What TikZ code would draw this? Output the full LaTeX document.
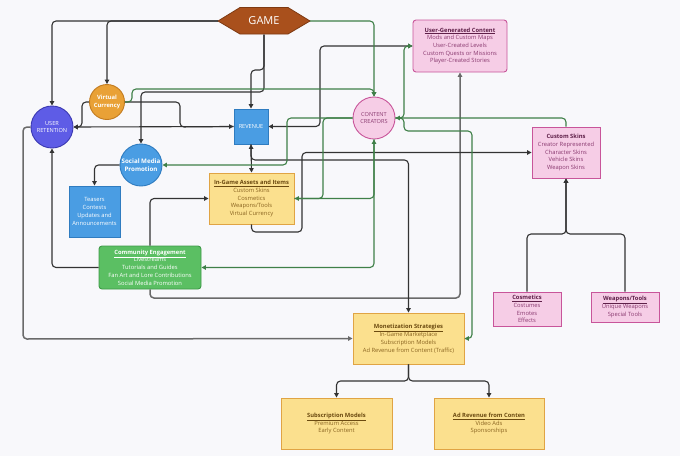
\documentclass[tikz,border=0pt]{standalone}
\usepackage{fontspec}
\setmainfont{Open Sans}
\usetikzlibrary{arrows.meta}
\definecolor{bgc}{HTML}{F8F8FB}
\definecolor{linec}{HTML}{333333}
\definecolor{grayc}{HTML}{6A6A6A}
\definecolor{greenc}{HTML}{3F8048}
\definecolor{gamefill}{HTML}{A9501C}
\definecolor{gamedraw}{HTML}{7E3A12}
\definecolor{vcfill}{HTML}{E9A136}
\definecolor{vcdraw}{HTML}{C27B1F}
\definecolor{urfill}{HTML}{5E5CE6}
\definecolor{urdraw}{HTML}{3B39B2}
\definecolor{bluefill}{HTML}{4A9DE3}
\definecolor{bluedraw}{HTML}{2F7CC0}
\definecolor{pinkfill}{HTML}{F6CDE6}
\definecolor{pinkdraw}{HTML}{C8559A}
\definecolor{pinktext}{HTML}{8A3A70}
\definecolor{pinktitle}{HTML}{5E1F48}
\definecolor{yelfill}{HTML}{FBE08E}
\definecolor{yeldraw}{HTML}{E0A444}
\definecolor{yeltext}{HTML}{8A6420}
\definecolor{yeltitle}{HTML}{6B4A10}
\definecolor{grnfill}{HTML}{5BBF63}
\definecolor{grndraw}{HTML}{3E9A48}
\tikzset{
  txt/.style={font=\fontsize{5.8}{7.7}\selectfont, align=center, inner sep=0pt},
  pinkbox/.style={txt, draw=pinkdraw, fill=pinkfill, line width=0.9pt, text=pinktext},
  yelbox/.style={txt, draw=yeldraw, fill=yelfill, line width=0.9pt, text=yeltext},
  bluebox/.style={txt, draw=bluedraw, fill=bluefill, line width=0.9pt, text=white},
  grnbox/.style={txt, draw=grndraw, fill=grnfill, line width=0.9pt, text=white, rounded corners=3pt},
  circ/.style={txt, circle, line width=0.9pt, text=white},
  conn/.style={draw=linec, line width=1.1pt, rounded corners=4pt, -{Triangle[length=4.5pt,width=4.5pt]}},
  gconn/.style={draw=grayc, line width=1.5pt, rounded corners=4pt, -{Triangle[length=4.5pt,width=4.5pt]}},
  grconn/.style={draw=greenc, line width=1.1pt, rounded corners=4pt, -{Triangle[length=4.5pt,width=4.5pt]}},
}
\newcommand{\ttl}[1]{\underline{\textbf{#1}}}
\begin{document}
\begin{tikzpicture}[x=1pt,y=-1pt]
\useasboundingbox (0,0) rectangle (680,456);
\fill[bgc] (0,0) rectangle (680,456);

% GAME hexagon
\filldraw[fill=gamefill, draw=gamedraw, line width=0.8pt]
  (218,21) -- (240,7.5) -- (288,7.5) -- (310,21) -- (288,34) -- (240,34) -- cycle;
\node[inner sep=0pt, minimum width=92pt, minimum height=27pt, text=white,
  font=\fontsize{11}{13}\selectfont] (game) at (264,21) {GAME};

% circles
\node[circ, fill=vcfill, draw=vcdraw, minimum size=35pt, font=\fontsize{5.8}{7.2}\selectfont\bfseries] (vc) at (107,102) {Virtual\\Currency};
\node[circ, fill=urfill, draw=urdraw, minimum size=42pt, font=\fontsize{5.6}{7.4}\selectfont] (ur) at (52,127) {USER\\RETENTION};
\node[circ, fill=bluefill, draw=bluedraw, minimum size=42pt, font=\fontsize{6.2}{8}\selectfont\bfseries] (smp) at (141,165) {Social Media\\Promotion};
\node[circ, fill=pinkfill, draw=pinkdraw, minimum size=42pt, text=pinktext, font=\fontsize{5.6}{7.4}\selectfont] (cc) at (374,118) {CONTENT\\CREATORS};

% boxes
\node[bluebox, minimum width=34pt, minimum height=35pt, font=\fontsize{5.6}{7}\selectfont] (rev) at (251,126.5) {REVENUE};
\node[pinkbox, rounded corners=3pt, minimum width=94pt, minimum height=52pt] (ugc) at (460,46)
  {\textcolor{pinktitle}{\ttl{User-Generated Content}}\\Mods and Custom Maps\\User-Created Levels\\Custom Quests or Missions\\Player-Created Stories};
\node[pinkbox, minimum width=68pt, minimum height=51pt] (cs) at (566,152.5)
  {\textcolor{pinktitle}{\textbf{Custom Skins}}\\Creator Represented\\Character Skins\\Vehicle Skins\\Weapon Skins};
\node[pinkbox, minimum width=68pt, minimum height=34pt] (cos) at (527,309)
  {\textcolor{pinktitle}{\ttl{Cosmetics}}\\Costumes\\Emotes\\Effects};
\node[pinkbox, minimum width=68pt, minimum height=30pt] (wt) at (625,307)
  {\textcolor{pinktitle}{\ttl{Weapons/Tools}}\\Unique Weapons\\Special Tools};
\node[bluebox, minimum width=51pt, minimum height=51pt] (tea) at (94.5,211.5)
  {Teasers\\Contests\\Updates and\\Announcements};
\node[yelbox, minimum width=85pt, minimum height=51pt] (iga) at (251.5,198.5)
  {\textcolor{yeltitle}{\ttl{In-Game Assets and Items}}\\Custom Skins\\Cosmetics\\Weapons/Tools\\Virtual Currency};
\node[grnbox, minimum width=102pt, minimum height=43pt] (ce) at (150,267.5)
  {\ttl{Community Engagement}\\Livestreams\\Tutorials and Guides\\Fan Art and Lore Contributions\\Social Media Promotion};
\node[yelbox, minimum width=111pt, minimum height=51pt] (mon) at (408.5,338.5)
  {\textcolor{yeltitle}{\ttl{Monetization Strategies}}\\In-Game Marketplace\\Subscription Models\\Ad Revenue from Content (Traffic)};
\node[yelbox, minimum width=111pt, minimum height=51pt] (sub) at (336.5,423.5)
  {\textcolor{yeltitle}{\ttl{Subscription Models}}\\Premium Access\\Early Content};
\node[yelbox, minimum width=110pt, minimum height=51pt] (ad) at (489,423.5)
  {\textcolor{yeltitle}{\ttl{Ad Revenue from Conten}}\\Video Ads\\Sponsorships};

% black connectors
\draw[conn] (game.west) -| (ur.north);
\draw[conn] (game.west) -| (vc.north);
\draw[conn] (game.south) -- (264,70) -- (251,70) -- (rev.north);
\draw[conn] (game.south) -- (264,92) -- (141,92) -- (smp.north);
\draw[conn] (vc.west) -- (82,102) -- (82,127) -- (ur.east);
\draw[conn] (vc.east) -- (180,102) -- (180,127) -- (rev.west);
\draw[conn] (rev.west) -- (ur.east);
\draw[conn] (smp.west) -| (tea.north);
\draw[conn] (ce.west) -| (ur.south);
\draw[gconn] (ur.west) -- (23,127) -- (23,339) -- (mon.west);
\draw[conn] (ce.north) |- (iga.west);
\draw[gconn] (ce.south) -- (150,298) -- (460,298) -- (ugc.south);
\draw[conn, {Triangle[length=4.5pt,width=4.5pt]}-{Triangle[length=4.5pt,width=4.5pt]}] (iga.north) -- (rev.south);
\draw[conn] (rev.south) -- (251,160) -- (408.5,160) -- (mon.north);
\draw[conn] (iga.south) -- (251.5,232) -- (302,232) -- (302,152.5) -- (cs.west);
\draw[conn, {Triangle[length=4.5pt,width=4.5pt]}-{Triangle[length=4.5pt,width=4.5pt]}] (rev.east) -- (320,126.5) -- (320,46) -- (ugc.west);
\draw[conn] (cos.north) -- (527,234) -- (566,234) -- (cs.south);
\draw[conn] (wt.north) -- (625,234) -- (566,234) -- (cs.south);
\draw[conn] (mon.south) -- (408.5,381) -| (sub.north);
\draw[conn] (mon.south) -- (408.5,381) -| (ad.north);

% green connectors
\draw[grconn] (game.east) -| (cc.north);
\draw[grconn] (vc.east) -- (132,102) -- (132,89) -- (374,89) -- (cc.north);
\draw[grconn] (cc.east) -- (404,118) -- (404,46) -- (ugc.west);
\draw[grconn] (cc.east) -- (404,118) -- (404,131) -- (472,131) -- (472,338.5) -- (mon.east);
\draw[grconn] (cs.north) |- (cc.east);
\draw[grconn] (cc.west) -- (287,118) -- (287,165) -- (smp.east);
\draw[grconn] (cc.west) -- (323,118) -- (323,198.5) -- (iga.east);
\draw[grconn] (iga.east) -- (374,198.5) -- (cc.south);
\draw[grconn] (cc.south) -- (374,267.5) -- (ce.east);
\end{tikzpicture}
\end{document}
